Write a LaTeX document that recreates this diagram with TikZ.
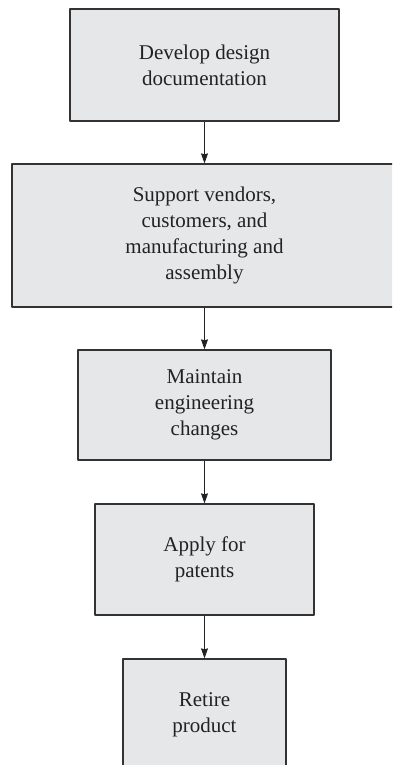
\documentclass[tikz,border=0pt]{standalone}
\usepackage{fontspec}
\setmainfont{Liberation Serif}
\usetikzlibrary{arrows.meta}
\definecolor{boxfill}{HTML}{E6E7E9}
\definecolor{boxline}{HTML}{333333}
\definecolor{txt}{HTML}{222222}

\begin{document}
\begin{tikzpicture}[x=1pt, y=-1pt, >={Stealth[length=10pt,width=7pt,inset=1pt]},
	line join=round, font=\fontsize{21}{26}\selectfont,
	stage/.style={draw=boxline, line width=1.3pt, fill=boxfill, text=txt,
		align=center, inner sep=0pt, minimum width=#1},
	flow/.style={->, draw=txt, line width=0.9pt}]
	\useasboundingbox (0,0) rectangle (392,765);
	\clip (0,0) rectangle (392,765);
	\node[stage=269pt, minimum height=112pt] (design) at (204.5,65) {Develop design\\documentation};
	\node[stage=385pt, minimum height=143pt] (support) at (204.5,235.5) {Support vendors,\\customers, and\\manufacturing and\\assembly};
	\node[stage=253pt, minimum height=110pt] (maintain) at (204.5,405) {Maintain\\engineering\\changes};
	\node[stage=219pt, minimum height=111pt] (patents) at (204.5,559.5) {Apply for\\patents};
	\node[stage=163pt, minimum height=112pt] (retire) at (204.5,715) {Retire\\product};
	\draw[flow] (design) -- (support);
	\draw[flow] (support) -- (maintain);
	\draw[flow] (maintain) -- (patents);
	\draw[flow] (patents) -- (retire);
\end{tikzpicture}
\end{document}
